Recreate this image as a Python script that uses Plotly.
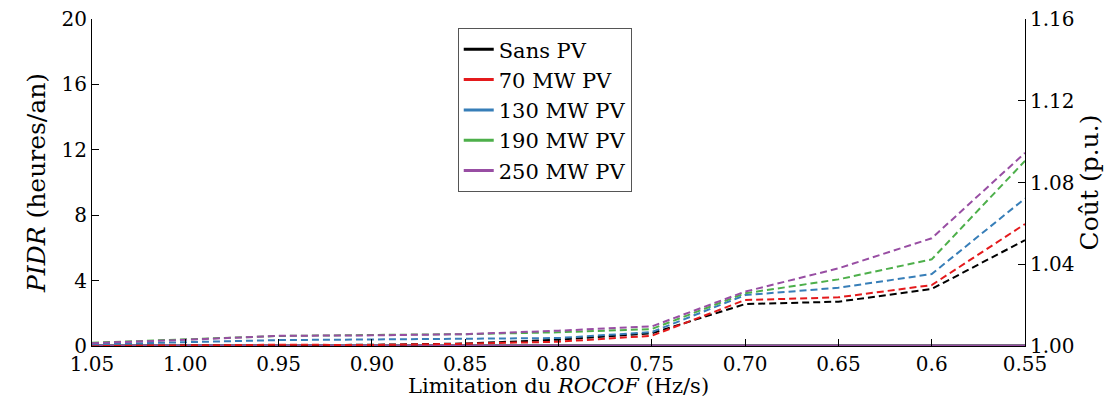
import plotly.graph_objects as go

rocof = [1.05, 1.00, 0.95, 0.90, 0.85, 0.80, 0.75, 0.70, 0.65, 0.60, 0.55]
tick_text = ["1.05", "1.00", "0.95", "0.90", "0.85", "0.80", "0.75", "0.70", "0.65", "0.6", "0.55"]

names = ["Sans PV", "70 MW PV", "130 MW PV", "190 MW PV", "250 MW PV"]
colors = ["#000000", "#e41a1c", "#377eb8", "#4daf4a", "#984ea3"]

# PIDR (heures/an) - left axis, solid lines
pidr_sans = [0] * 11
pidr_70 = [0] * 11
pidr_130 = [0] * 11
pidr_190 = [0] * 11
pidr_250 = [0] * 11

# Cost (p.u.) - right axis, dashed lines
cost_sans = [1.0000, 1.0002, 1.0005, 1.0006, 1.0012, 1.0031, 1.0062, 1.0205, 1.0217, 1.0279, 1.0518]
cost_70 = [1.0000, 1.0003, 1.0006, 1.0005, 1.0011, 1.0021, 1.0050, 1.0225, 1.0238, 1.0298, 1.0597]
cost_130 = [1.0008, 1.0020, 1.0029, 1.0032, 1.0034, 1.0039, 1.0068, 1.0249, 1.0285, 1.0352, 1.0722]
cost_190 = [1.0016, 1.0032, 1.0049, 1.0054, 1.0058, 1.0067, 1.0083, 1.0258, 1.0326, 1.0424, 1.0906]
cost_250 = [1.0014, 1.0030, 1.0050, 1.0052, 1.0058, 1.0075, 1.0096, 1.0266, 1.0380, 1.0527, 1.0945]

pidr = [pidr_sans, pidr_70, pidr_130, pidr_190, pidr_250]
cost = [cost_sans, cost_70, cost_130, cost_190, cost_250]

x_title = "Limitation du <i>ROCOF</i> (Hz/s)"
FONT = "DejaVu Serif"

fig = go.Figure()
for n, c, vals in zip(names, colors, cost):
    fig.add_trace(go.Scatter(x=rocof, y=vals, mode="lines", yaxis="y2", showlegend=False,
                             line=dict(color=c, width=2, dash="7px,4px"), name=n + " coût"))
for n, c, vals in zip(names, colors, pidr):
    fig.add_trace(go.Scatter(x=rocof, y=vals, mode="lines", yaxis="y", name=n,
                             line=dict(color=c, width=3)))

fig.update_layout(
    width=1100, height=391,
    margin=dict(l=84, r=83, t=11, b=53, autoexpand=False),
    paper_bgcolor="white", plot_bgcolor="white",
    font=dict(family=FONT, size=20, color="black"),
    xaxis=dict(range=[1.05, 0.55], tickvals=rocof, ticktext=tick_text, automargin=True,
               ticks="inside", ticklen=7, tickcolor="black", showline=True, linecolor="black",
               linewidth=1, showgrid=False, zeroline=False, ticklabeloverflow="allow"),
    yaxis=dict(range=[0, 20], tickvals=[0, 4, 8, 12, 16, 20], ticks="inside", ticklen=7,
               tickcolor="black", showline=True, linecolor="black", linewidth=1,
               showgrid=False, zeroline=False, automargin=True, ticklabeloverflow="allow",
               title=dict(text="<i>PIDR</i> (heures/an)", standoff=8, font=dict(size=25))),
    yaxis2=dict(range=[1.0, 1.16], tickvals=[1.00, 1.04, 1.08, 1.12, 1.16],
                ticktext=["1.00", "1.04", "1.08", "1.12", "1.16"], automargin=True,
                overlaying="y", side="right", ticks="inside", ticklen=7, tickcolor="black",
                ticklabeloverflow="allow",
                showline=True, linecolor="black", linewidth=1, showgrid=False, zeroline=False,
                title=dict(text="Coût (p.u.)", standoff=5, font=dict(size=25))),
    legend=dict(x=0.392, y=0.972, xanchor="left", yanchor="top",
                bgcolor="white", bordercolor="#555555", borderwidth=1,
                font=dict(family=FONT, size=21), itemwidth=30, tracegroupgap=0),
    annotations=[dict(text=x_title, xref="paper", yref="paper", x=0.5, y=-0.123,
                      xanchor="center", yanchor="middle", showarrow=False,
                      font=dict(family=FONT, size=21, color="black"))],
)

fig.write_html("out.html")
